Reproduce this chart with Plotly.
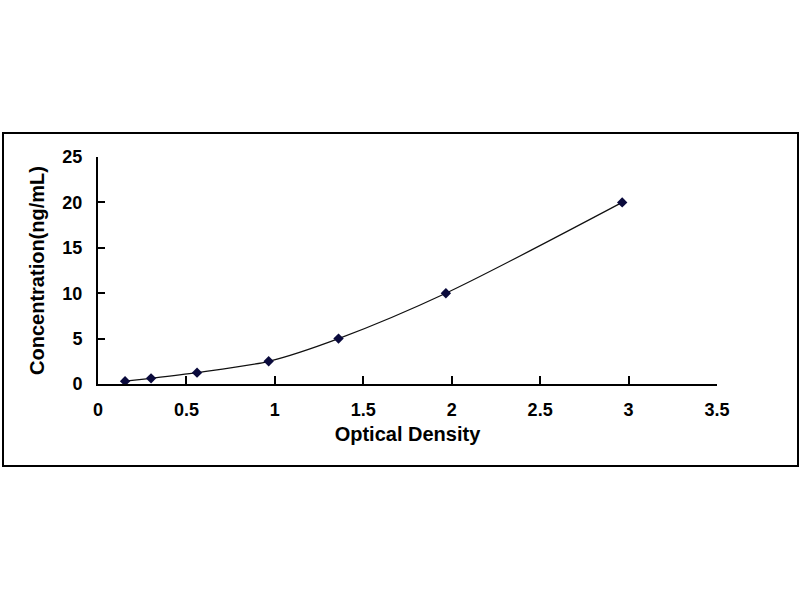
import plotly.graph_objects as go

# standard curve values
optical_density = [0.153, 0.30, 0.56, 0.965, 1.36, 1.967, 2.964]
concentration = [0.31, 0.625, 1.25, 2.5, 5, 10, 20]

x_ticks = [0, 0.5, 1, 1.5, 2, 2.5, 3, 3.5]
x_tick_labels = ["0", "0.5", "1", "1.5", "2", "2.5", "3", "3.5"]
y_ticks = [0, 5, 10, 15, 20, 25]

W, H = 800, 600
L, R, T, B = 98, 83, 157, 216
pw, ph = W - L - R, H - T - B


def px_to_paper(x, y):
    return (x - L) / pw, 1 - (y - T) / ph


fig = go.Figure()

fig.add_trace(go.Scatter(
    x=optical_density,
    y=concentration,
    mode="lines+markers",
    line=dict(color="#101010", width=1.2, shape="spline", smoothing=0.8),
    marker=dict(symbol="diamond", size=8, color="#0a0a3c"),
    showlegend=False,
))

# outer frame around the whole chart
x0, y0 = px_to_paper(3, 133)
x1, y1 = px_to_paper(798, 466)
fig.add_shape(type="rect", xref="paper", yref="paper",
              x0=x0, y0=y1, x1=x1, y1=y0,
              line=dict(color="black", width=2), layer="below")

bold = dict(family="Liberation Sans", size=18, color="black", weight="bold")

fig.update_layout(
    width=W, height=H,
    margin=dict(l=L, r=R, t=T, b=B, autoexpand=False),
    paper_bgcolor="white",
    plot_bgcolor="white",
    font=dict(family="Liberation Sans", size=15, color="black"),
    xaxis=dict(
        range=[0, 3.5],
        tickvals=x_ticks,
        ticktext=x_tick_labels,
        ticks="inside", ticklen=8, tickwidth=2, tickcolor="black",
        showline=True, linecolor="black", linewidth=2,
        showgrid=False, zeroline=False, automargin=False,
        tickfont=bold,
        ticklabelstandoff=8,
        title=dict(text="Optical Density", font=dict(bold, size=20), standoff=8),
    ),
    yaxis=dict(
        range=[0, 25],
        tickvals=y_ticks,
        ticks="inside", ticklen=7, tickwidth=2, tickcolor="black",
        showline=True, linecolor="black", linewidth=2,
        showgrid=False, zeroline=False, automargin=False,
        tickfont=bold,
        ticklabelstandoff=10,
        title=dict(text="Concentration(ng/mL)", font=dict(bold, size=20), standoff=12),
    ),
)

fig.write_html("out.html", config={"displayModeBar": False},
               post_script="document.body.style.margin='0';")
